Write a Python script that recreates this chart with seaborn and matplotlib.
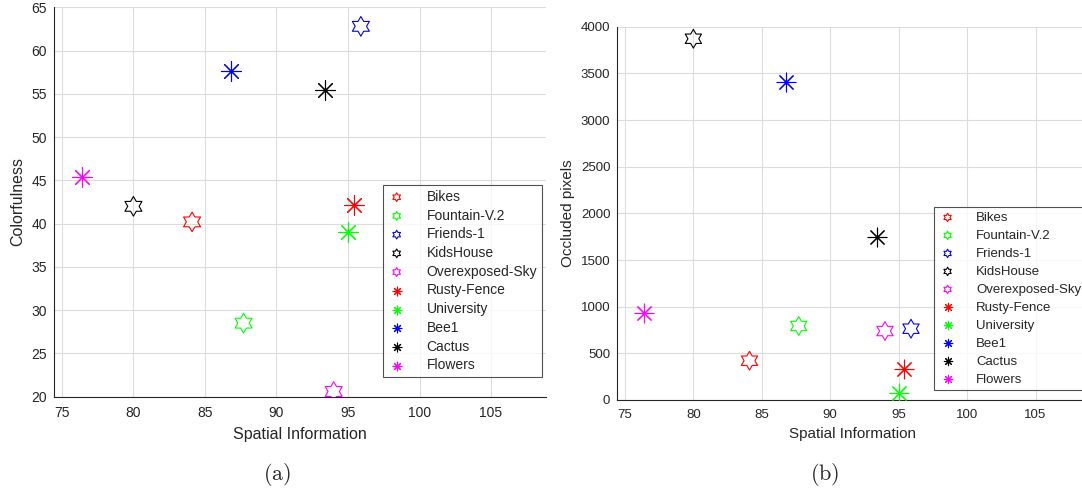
import numpy as np
import pandas as pd
import matplotlib
matplotlib.use("Agg")
import matplotlib.pyplot as plt
from matplotlib.path import Path
import seaborn as sns

# ---- data ----
names = ['Bikes', 'Fountain-V.2', 'Friends-1', 'KidsHouse', 'Overexposed-Sky',
         'Rusty-Fence', 'University', 'Bee1', 'Cactus', 'Flowers']
spatial_info = [84.1, 87.7, 95.9, 80.0, 94.0, 95.4, 95.0, 86.8, 93.4, 76.4]
colorfulness = [40.2, 28.5, 62.8, 42.0, 20.6, 42.2, 39.0, 57.6, 55.4, 45.4]
occluded = [421, 793, 764, 3871, 739, 336, 71, 3407, 1746, 929]
colors = ['#ff0000', '#00ff00', '#0000ff', '#000000', '#ff00ff',
          '#ff0000', '#00ff00', '#0000ff', '#000000', '#ff00ff']
kinds = ['hex'] * 5 + ['ast'] * 5
x_ticks = [75, 80, 85, 90, 95, 100, 105]

df = pd.DataFrame({'name': names, 'si': spatial_info, 'col': colorfulness,
                   'occ': occluded, 'color': colors, 'kind': kinds})

sns.set_theme(style="white")
plt.rcParams['font.family'] = ['Liberation Sans', 'DejaVu Sans']
plt.rcParams['mathtext.fontset'] = 'cm'

hexagram = Path.unit_regular_star(6, 0.577)
asterisk = (8, 2, 0)

fig = plt.figure(figsize=(10.82, 4.93), dpi=100)
W, H = 1082, 493
axA = fig.add_axes([53.6 / W, (H - 396.7) / H, 492.8 / W, 389.4 / H])
axB = fig.add_axes([617.0 / W, (H - 400) / H, 471.5 / W, 373.3 / H])

txt = '#262626'


def draw(ax, ycol, ylabel, ylim, yticks, legend_anchor, k, lspace):
    for _, r in df.iterrows():
        if r['kind'] == 'hex':
            sns.scatterplot(x=[r['si']], y=[r[ycol]], ax=ax, marker=hexagram, s=200 * k * k,
                            facecolors='none', edgecolor=r['color'], linewidth=0.8,
                            label=r['name'], zorder=3)
        else:
            sns.scatterplot(x=[r['si']], y=[r[ycol]], ax=ax, marker=asterisk, s=200 * k * k,
                            color=r['color'], linewidth=0.8, label=r['name'], zorder=3)
    ax.set_xlim(74.42, 108.87)
    ax.set_ylim(*ylim)
    ax.set_xticks(x_ticks)
    ax.set_yticks(yticks)
    ax.grid(True, color='#dcdcdc', linewidth=0.8)
    ax.set_axisbelow(True)
    for s in ['top', 'right']:
        ax.spines[s].set_visible(False)
    for s in ['left', 'bottom']:
        ax.spines[s].set_color(txt)
        ax.spines[s].set_linewidth(0.8)
    ax.tick_params(direction='in', length=3, width=0.6, colors=txt, labelsize=10 * k)
    ax.tick_params(axis='x', pad=6.5 * k)
    ax.tick_params(axis='y', pad=5 * k)
    ax.set_xlabel('Spatial Information', fontsize=11.5 * k, color=txt, labelpad=5 * k)
    ax.set_ylabel(ylabel, fontsize=11.5 * k, color=txt, labelpad=4 * k)
    leg = ax.legend(loc='upper left', bbox_to_anchor=legend_anchor, fontsize=10 * k,
                    frameon=True, fancybox=False, edgecolor='#262626',
                    labelspacing=lspace, handlelength=1.3, handletextpad=1.5,
                    borderpad=0.35, borderaxespad=0)
    leg.get_frame().set_linewidth(0.8)
    for h in leg.legend_handles:
        h.set_sizes([40 * k * k])
    for t in leg.get_texts():
        t.set_color(txt)


draw(axA, 'col', 'Colorfulness', (20, 65), [20, 25, 30, 35, 40, 45, 50, 55, 60, 65],
     (0.668, 0.5437), 1.0, 0.34)
draw(axB, 'occ', 'Occluded pixels', (0, 4000), [0, 500, 1000, 1500, 2000, 2500, 3000, 3500, 4000],
     (0.673, 0.517), 0.955, 0.43)

fig.text(277 / W, 1 - 474 / H, r'$\mathrm{(a)}$', ha='center', va='center', fontsize=16)
fig.text(825 / W, 1 - 474 / H, r'$\mathrm{(b)}$', ha='center', va='center', fontsize=16)

fig.savefig('out.png', dpi=100)
